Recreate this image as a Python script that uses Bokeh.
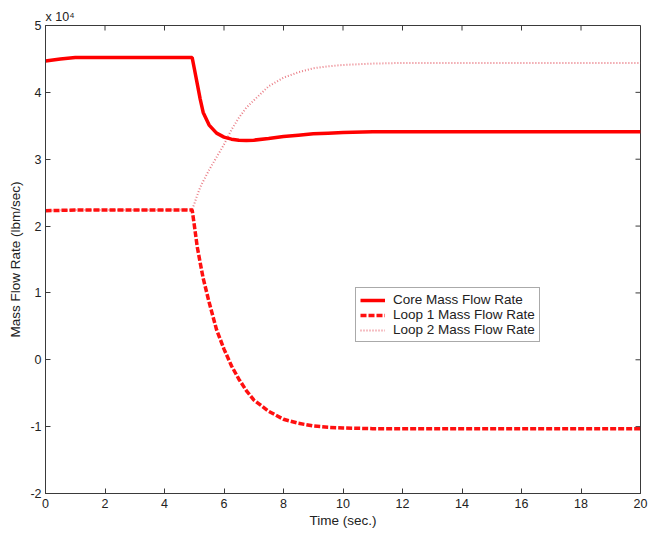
import math
from bokeh.plotting import figure
from bokeh.models import Range1d, FixedTicker
from bokeh.embed import file_html
from bokeh.resources import INLINE
from bokeh.models import Legend, LegendItem

# ---- data (values in units of 1e4 lbm/sec) ----
time = [0, 0.5, 1, 2, 3, 4, 4.93, 5.0, 5.1, 5.2, 5.3, 5.5, 5.75, 6.0, 6.25, 6.5,
        6.75, 7.0, 7.5, 8.0, 8.5, 9.0, 9.5, 10, 11, 12, 14, 16, 18, 20]
core = [4.47, 4.50, 4.52, 4.52, 4.52, 4.52, 4.52, 4.36, 4.13, 3.90, 3.70, 3.51,
        3.39, 3.33, 3.30, 3.285, 3.28, 3.285, 3.31, 3.34, 3.36, 3.38, 3.39,
        3.40, 3.41, 3.41, 3.41, 3.41, 3.41, 3.41]
loop1 = [2.23, 2.235, 2.24, 2.24, 2.24, 2.24, 2.24, 2.02, 1.69, 1.45, 1.22, 0.86,
         0.45, 0.16, -0.09, -0.29, -0.46, -0.60, -0.77, -0.89, -0.95, -0.99,
         -1.01, -1.02, -1.03, -1.03, -1.03, -1.03, -1.03, -1.03]
loop2 = [2.23, 2.235, 2.24, 2.24, 2.24, 2.24, 2.25, 2.33, 2.46, 2.58, 2.67, 2.84,
         3.03, 3.22, 3.44, 3.62, 3.77, 3.88, 4.09, 4.22, 4.30, 4.36, 4.39,
         4.41, 4.43, 4.44, 4.44, 4.44, 4.44, 4.44]
series_names = ["Core Mass Flow Rate", "Loop 1 Mass Flow Rate", "Loop 2 Mass Flow Rate"]
x_ticks = [0, 2, 4, 6, 8, 10, 12, 14, 16, 18, 20]
y_ticks = [-2, -1, 0, 1, 2, 3, 4, 5]
x_label = "Time (sec.)"
y_label = "Mass Flow Rate (lbm/sec)"
exp_text = "x 10\u2074"

FONT = "Liberation Sans"
AX = "#3a3a3a"
TXT = "#222222"

p = figure(width=653, height=536, output_backend="svg", toolbar_location=None,
           x_range=Range1d(x_ticks[0], x_ticks[-1]),
           y_range=Range1d(y_ticks[0], y_ticks[-1]),
           min_border_left=45, min_border_right=13, min_border_top=25,
           min_border_bottom=43, background_fill_color="white",
           border_fill_color="white")
p.grid.visible = False
p.outline_line_color = AX
p.outline_line_width = 1

# exponent label as a left-aligned title above the frame
p.title.text = exp_text
p.title.align = "left"
p.title.text_font = FONT
p.title.text_font_size = "12.5px"
p.title.text_font_style = "normal"
p.title.text_color = TXT
p.title.standoff = 4

def style_axis(ax, ticks):
    ax.ticker = FixedTicker(ticks=ticks)
    ax.major_tick_in = 5
    ax.major_tick_out = 0
    ax.minor_tick_line_color = None
    ax.axis_line_color = AX
    ax.major_tick_line_color = AX
    ax.major_label_text_font = FONT
    ax.major_label_text_font_size = "12.5px"
    ax.major_label_text_color = TXT
    ax.major_label_overrides = {t: str(t) for t in ticks}
    ax.axis_label_text_font = FONT
    ax.axis_label_text_font_size = "13.5px"
    ax.axis_label_text_font_style = "normal"
    ax.axis_label_text_color = TXT

xa = p.xaxis[0]
ya = p.yaxis[0]
style_axis(xa, x_ticks)
style_axis(ya, y_ticks)
xa.axis_label = x_label
ya.axis_label = y_label
xa.major_label_standoff = 5
xa.axis_label_standoff = 2
ya.major_label_standoff = 4
ya.axis_label_standoff = 4

# inward ticks on the top and right edges of the box (MATLAB style)
p.ray(x=x_ticks, y=[y_ticks[-1]] * len(x_ticks), length=5, length_units="screen",
      angle=-math.pi / 2, line_color=AX, line_width=1)
p.ray(x=[x_ticks[-1]] * len(y_ticks), y=y_ticks, length=5, length_units="screen",
      angle=math.pi, line_color=AX, line_width=1)

r2 = p.line(time, loop2, line_color="#e8707a", line_width=2, line_dash="1 2",
            line_alpha=0.9)
r1 = p.line(time, loop1, line_color="#ff1010", line_width=3.5, line_dash="6 2")
r0 = p.line(time, core, line_color="#ff0000", line_width=3.5)

legend = Legend(items=[LegendItem(label=series_names[0], renderers=[r0]),
                       LegendItem(label=series_names[1], renderers=[r1]),
                       LegendItem(label=series_names[2], renderers=[r2])],
                location=(310, 151), padding=4, spacing=0, margin=0,
                glyph_width=25, glyph_height=14, label_height=14,
                label_standoff=8, label_text_font=FONT,
                label_text_font_size="13.5px", label_text_color=TXT,
                border_line_color="#555555", border_line_width=1,
                background_fill_color="white", background_fill_alpha=1.0)
p.add_layout(legend)

open("out.html", "w").write(file_html(p, INLINE))
